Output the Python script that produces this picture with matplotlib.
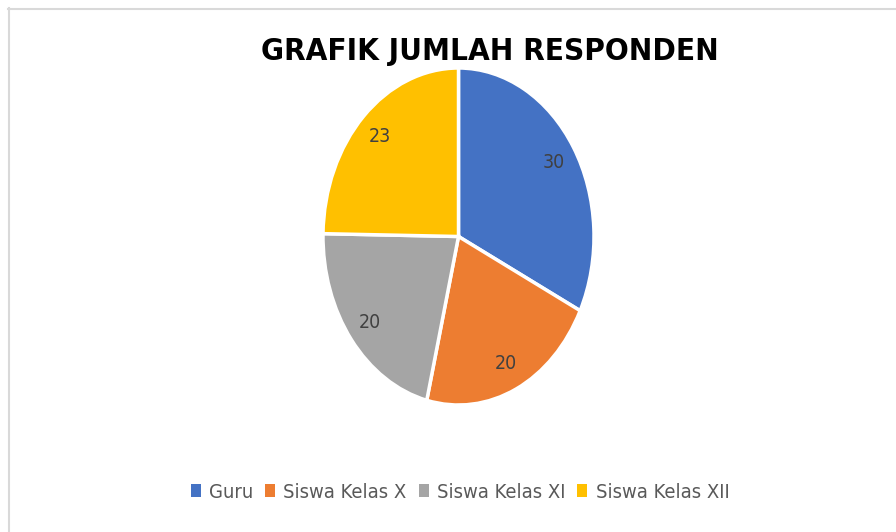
import matplotlib
matplotlib.use("Agg")
import matplotlib.pyplot as plt
from matplotlib.patches import Patch
from matplotlib.lines import Line2D
from matplotlib.font_manager import FontProperties

categories = ["Guru", "Siswa Kelas X", "Siswa Kelas XI", "Siswa Kelas XII"]
values = [30, 20, 20, 23]
colors = ["#4472C4", "#ED7D31", "#A5A5A5", "#FFC000"]
title = "GRAFIK JUMLAH RESPONDEN"

W, H = 896, 532
fig = plt.figure(figsize=(W / 100, H / 100), dpi=100)
fig.patch.set_facecolor("white")

fp_title = FontProperties(family="DejaVu Sans", weight="bold", stretch="condensed", size=22.5)
fp_lab = FontProperties(family="DejaVu Sans", stretch="condensed", size=14)
fp_leg = FontProperties(family="DejaVu Sans", stretch="condensed", size=14.5)

fig.add_artist(Line2D([8 / W, 1.0], [1 - 8.5 / H, 1 - 8.5 / H], color="#d9d9d9", lw=1.5))
fig.add_artist(Line2D([8.5 / W, 8.5 / W], [0.0, 1 - 8 / H], color="#d9d9d9", lw=1.5))

left, right, top, bottom = 323, 594, 68, 405
ax = fig.add_axes([left / W, 1 - bottom / H, (right - left) / W, (bottom - top) / H])
total = sum(values)
wedges, texts, autotexts = ax.pie(
    values, colors=colors, startangle=90, counterclock=False,
    wedgeprops=dict(edgecolor="white", linewidth=2.5),
    autopct=lambda p: f"{round(p * total / 100)}", pctdistance=0.83,
)
for t in autotexts:
    t.set_fontproperties(fp_lab)
    t.set_color("#404040")
ax.set_aspect("auto")
ax.set_xlim(-1, 1)
ax.set_ylim(-1, 1)

fig.text(490 / W, 1 - 52 / H, title, ha="center", va="center",
         fontproperties=fp_title, color="black")

handles = [Patch(facecolor=c, edgecolor="none") for c in colors]
fig.legend(handles, categories, loc="center", bbox_to_anchor=(460 / W, 1 - 492 / H),
           ncol=4, frameon=False, handlelength=0.5, handleheight=0.6,
           handletextpad=0.4, columnspacing=0.6,
           prop=fp_leg, labelcolor="#595959")

fig.savefig("out.png", dpi=100, facecolor="white")
